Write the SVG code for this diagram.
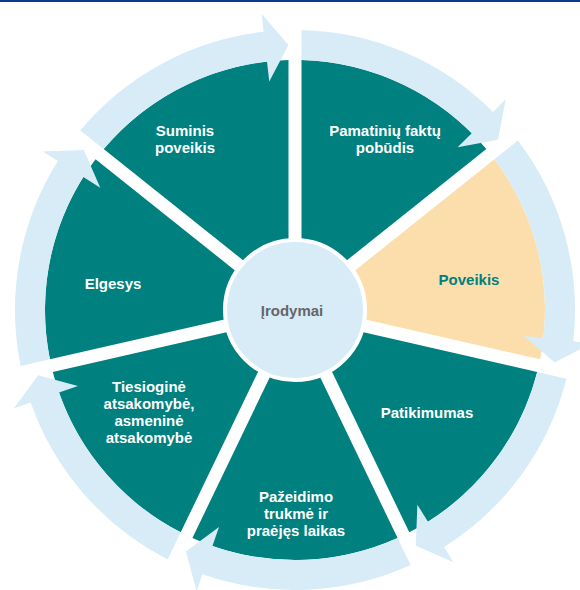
<svg xmlns="http://www.w3.org/2000/svg" xmlns:xlink="http://www.w3.org/1999/xlink" width="580" height="590" viewBox="0 0 580 590">
  <style>
    .teal { fill: #00807E; }
    .orange { fill: #FCDEAC; }
    .arrow { fill: #D7ECF7; }
    .lbl { font-family: "Liberation Sans", Arial, sans-serif; font-size: 15px; font-weight: bold; fill: #FFFFFF; text-anchor: middle; }
    .lbl-dark { fill: #00807E; }
    .lbl-center { fill: #666666; }
  </style>
  <defs>
    <path id="sector" d="M6.51,-13.51 L6.5,-249.92 A250,250 0 0 1 191.34,-160.90 Z"/>
    <path id="ringArrow" d="M6.5,-279.92 A280,280 0 0 1 197.99,-197.99 L210.72,-210.72 L203.06,-170.27 L162.63,-162.63 L176.78,-176.78 A250,250 0 0 0 6.5,-249.92 Z"/>
  </defs>
  <rect x="0" y="0" width="580" height="590" fill="#FFFFFF"/>
  <rect x="0" y="0" width="580" height="2" fill="#0B3A8F"/>

  <g transform="translate(295,310)">
    <g id="node-pamatiniu"><use xlink:href="#sector" href="#sector" class="teal"/></g>
    <g id="node-poveikis"><use xlink:href="#sector" href="#sector" class="orange" transform="rotate(51.428571)"/></g>
    <g id="node-patikimumas"><use xlink:href="#sector" href="#sector" class="teal" transform="rotate(102.857143)"/></g>
    <g id="node-pazeidimo"><use xlink:href="#sector" href="#sector" class="teal" transform="rotate(154.285714)"/></g>
    <g id="node-tiesiogine"><use xlink:href="#sector" href="#sector" class="teal" transform="rotate(205.714286)"/></g>
    <g id="node-elgesys"><use xlink:href="#sector" href="#sector" class="teal" transform="rotate(257.142857)"/></g>
    <g id="node-suminis"><use xlink:href="#sector" href="#sector" class="teal" transform="rotate(308.571429)"/></g>

    <g id="connectors">
      <use xlink:href="#ringArrow" href="#ringArrow" class="arrow"/>
      <use xlink:href="#ringArrow" href="#ringArrow" class="arrow" transform="rotate(51.428571)"/>
      <use xlink:href="#ringArrow" href="#ringArrow" class="arrow" transform="rotate(102.857143)"/>
      <use xlink:href="#ringArrow" href="#ringArrow" class="arrow" transform="rotate(154.285714)"/>
      <use xlink:href="#ringArrow" href="#ringArrow" class="arrow" transform="rotate(205.714286)"/>
      <use xlink:href="#ringArrow" href="#ringArrow" class="arrow" transform="rotate(257.142857)"/>
      <use xlink:href="#ringArrow" href="#ringArrow" class="arrow" transform="rotate(308.571429)"/>
    </g>

    <g id="node-center">
      <circle cx="0" cy="0" r="70" fill="#D7ECF7" stroke="#FFFFFF" stroke-width="4"/>
    </g>
  </g>

  <g id="labels">
    <text class="lbl" x="385" y="136">Pamatinių faktų</text>
    <text class="lbl" x="385" y="153">pobūdis</text>
    <text class="lbl lbl-dark" x="469" y="285">Poveikis</text>
    <text class="lbl" x="427" y="418">Patikimumas</text>
    <text class="lbl" x="296" y="502">Pažeidimo</text>
    <text class="lbl" x="296" y="519">trukmė ir</text>
    <text class="lbl" x="296" y="536">praėjęs laikas</text>
    <text class="lbl" x="149" y="392">Tiesioginė</text>
    <text class="lbl" x="149" y="409">atsakomybė,</text>
    <text class="lbl" x="149" y="426">asmeninė</text>
    <text class="lbl" x="149" y="443">atsakomybė</text>
    <text class="lbl" x="113" y="289">Elgesys</text>
    <text class="lbl" x="185" y="136">Suminis</text>
    <text class="lbl" x="185" y="153">poveikis</text>
    <text class="lbl lbl-center" x="292" y="316">Įrodymai</text>
  </g>
</svg>
